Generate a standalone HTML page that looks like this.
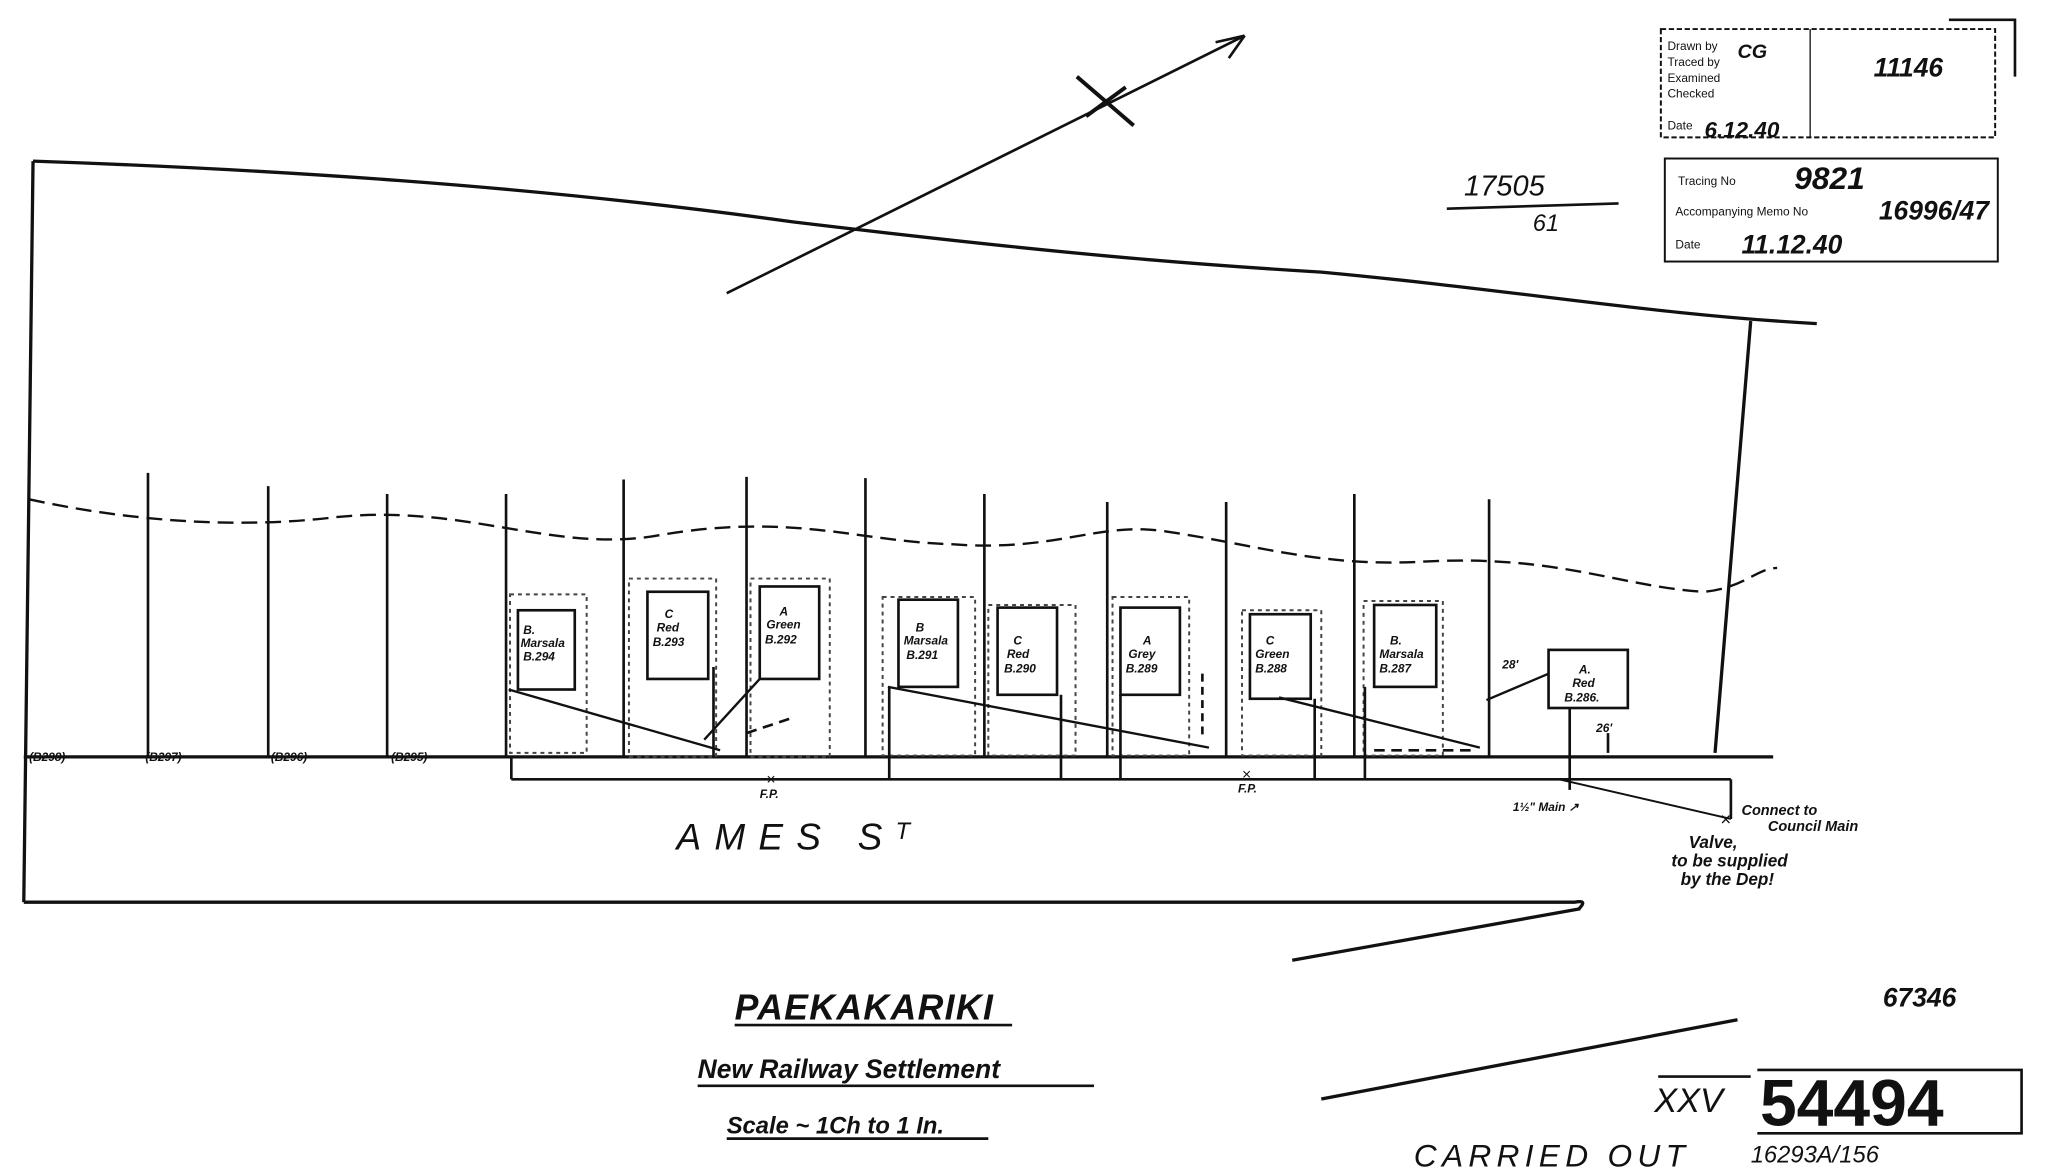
<!DOCTYPE html>
<html><head><meta charset="utf-8"><style>
html,body{margin:0;padding:0;background:#fff;width:2048px;height:1169px;overflow:hidden}
svg{display:block}
text{font-family:"Liberation Sans",sans-serif;fill:#111}
.h{font-style:italic;font-weight:bold}
</style></head><body>
<svg width="2048" height="1169" viewBox="0 0 1550 885" preserveAspectRatio="none" xmlns="http://www.w3.org/2000/svg">
<g fill="none" stroke="#111" stroke-width="2">
<path d="M25,122 C200,128 400,140 600,168 C800,192 900,200 1000,206 C1150,220 1250,238 1375,245" stroke-width="2.5"/>
<line x1="25" y1="122" x2="18" y2="683" stroke-width="2.5"/>
<path d="M18,683 L1192,683 Q1202,681 1195,688" stroke-width="2.5"/>
<line x1="1325" y1="243" x2="1298" y2="570" stroke-width="2.5"/>
<line x1="18" y1="573" x2="1342" y2="573" stroke-width="2.5"/>
<line x1="387" y1="590" x2="1310" y2="590"/>
<line x1="387" y1="573" x2="387" y2="590"/>
<line x1="1310" y1="590" x2="1310" y2="620"/>
<line x1="1180" y1="590" x2="1310" y2="620" stroke-width="1.5"/>
<line x1="112" y1="358" x2="112" y2="573"/>
<line x1="203" y1="368" x2="203" y2="573"/>
<line x1="293" y1="374" x2="293" y2="573"/>
<line x1="383" y1="374" x2="383" y2="573"/>
<line x1="472" y1="363" x2="472" y2="573"/>
<line x1="565" y1="361" x2="565" y2="573"/>
<line x1="655" y1="362" x2="655" y2="573"/>
<line x1="745" y1="374" x2="745" y2="573"/>
<line x1="838" y1="380" x2="838" y2="573"/>
<line x1="928" y1="380" x2="928" y2="573"/>
<line x1="1025" y1="374" x2="1025" y2="573"/>
<line x1="1127" y1="378" x2="1127" y2="573"/>
<path d="M22,378 C100,395 180,400 250,392 C350,380 420,420 500,405 C600,388 650,410 720,412 C800,418 830,395 880,402 C950,412 1000,430 1080,425 C1180,420 1230,445 1290,448 C1320,445 1330,430 1345,430" stroke-dasharray="12,6" stroke-width="1.8"/>
<line x1="550" y1="222" x2="942" y2="27"/>
<path d="M942,27 L920,32 M942,27 L930,44"/>
<line x1="815" y1="58" x2="858" y2="95" stroke-width="3"/>
<line x1="822" y1="88" x2="852" y2="66" stroke-width="3"/>
<rect x="392" y="462" width="43" height="60"/>
<rect x="490" y="448" width="46" height="66"/>
<rect x="575" y="444" width="45" height="70"/>
<rect x="680" y="454" width="45" height="66"/>
<rect x="755" y="460" width="45" height="66"/>
<rect x="848" y="460" width="45" height="66"/>
<rect x="946" y="465" width="46" height="64"/>
<rect x="1040" y="458" width="47" height="62"/>
<rect x="1172" y="492" width="60" height="44"/>
<g stroke-dasharray="3,3" stroke-width="1.5" stroke="#444">
<rect x="386" y="450" width="58" height="120"/>
<rect x="476" y="438" width="66" height="135"/>
<rect x="568" y="438" width="60" height="135"/>
<rect x="668" y="452" width="70" height="120"/>
<rect x="748" y="458" width="66" height="114"/>
<rect x="842" y="452" width="58" height="120"/>
<rect x="940" y="462" width="60" height="110"/>
<rect x="1032" y="455" width="60" height="117"/>
</g>
<line x1="385" y1="522" x2="545" y2="568" stroke-width="1.8"/>
<line x1="575" y1="514" x2="533" y2="560" stroke-width="1.8"/>
<line x1="672" y1="520" x2="915" y2="566" stroke-width="1.8"/>
<line x1="968" y1="528" x2="1120" y2="566" stroke-width="1.8"/>
<line x1="1125" y1="530" x2="1172" y2="510" stroke-width="1.8"/>
<path d="M1040,568 L1115,568" stroke-dasharray="8,5"/>
<path d="M565,555 L598,544" stroke-dasharray="8,5"/>
<line x1="1188" y1="536" x2="1188" y2="598"/>
<line x1="1217" y1="555" x2="1217" y2="570"/>
<line x1="540" y1="505" x2="540" y2="573"/>
<line x1="803" y1="526" x2="803" y2="590"/>
<line x1="848" y1="526" x2="848" y2="590"/>
<line x1="995" y1="529" x2="995" y2="590"/>
<line x1="1033" y1="520" x2="1033" y2="590"/>
<line x1="673" y1="520" x2="673" y2="590"/>
<line x1="910" y1="510" x2="910" y2="560" stroke-dasharray="6,4"/>
<line x1="978" y1="727" x2="1196" y2="688" stroke-width="2.5"/>
<line x1="1000" y1="832" x2="1315" y2="772" stroke-width="2.5"/>
<line x1="556" y1="776" x2="766" y2="776"/>
<line x1="528" y1="822" x2="828" y2="822"/>
<line x1="550" y1="862" x2="748" y2="862"/>
<line x1="1095" y1="158" x2="1225" y2="154"/>
<rect x="1257" y="22" width="253" height="82" stroke-width="1.5" stroke-dasharray="4,2"/>
<line x1="1370" y1="22" x2="1370" y2="104" stroke-width="1"/>
<rect x="1260" y="120" width="252" height="78" stroke-width="1.5"/>
<path d="M1475,15 L1525,15 L1525,58"/>
<line x1="1255" y1="815" x2="1325" y2="815"/>
<path d="M1330,810 L1530,810 L1530,858 L1330,858"/>
</g>
<g font-size="9" class="h">
<text x="22" y="576">(B298)</text><text x="110" y="576">(B297)</text>
<text x="205" y="576">(B296)</text><text x="296" y="576">(B295)</text>
<text x="396" y="480">B.</text><text x="394" y="490">Marsala</text><text x="396" y="500">B.294</text>
<text x="503" y="468">C</text><text x="497" y="478">Red</text><text x="494" y="489">B.293</text>
<text x="590" y="466">A</text><text x="580" y="476">Green</text><text x="579" y="487">B.292</text>
<text x="693" y="478">B</text><text x="684" y="488">Marsala</text><text x="686" y="499">B.291</text>
<text x="767" y="488">C</text><text x="762" y="498">Red</text><text x="760" y="509">B.290</text>
<text x="865" y="488">A</text><text x="854" y="498">Grey</text><text x="852" y="509">B.289</text>
<text x="958" y="488">C</text><text x="950" y="498">Green</text><text x="950" y="509">B.288</text>
<text x="1052" y="488">B.</text><text x="1044" y="498">Marsala</text><text x="1044" y="509">B.287</text>
<text x="1195" y="510">A.</text><text x="1190" y="520">Red</text><text x="1184" y="531">B.286.</text>
<text x="1137" y="506">28'</text><text x="1208" y="554">26'</text>
<text x="575" y="604">F.P.</text><text x="937" y="600">F.P.</text>
<text x="1145" y="614">1½" Main ↗</text>
<text x="1318" y="617" font-size="11">Connect to</text>
<text x="1338" y="629" font-size="11">Council Main</text>
<text x="1278" y="642" font-size="13">Valve,</text>
<text x="1265" y="656" font-size="13">to be supplied</text>
<text x="1272" y="670" font-size="13">by the Dep!</text>
</g>
<text x="1302" y="625" font-size="14">×</text>
<text x="580" y="594" font-size="12">×</text><text x="940" y="590" font-size="12">×</text>
<text x="512" y="643" font-size="28" font-style="italic" letter-spacing="10">AMES  S<tspan font-size="18" dy="-8">T</tspan></text>
<text x="556" y="772" font-size="27" class="h" letter-spacing="1">PAEKAKARIKI</text>
<text x="528" y="816" font-size="20" class="h">New Railway Settlement</text>
<text x="550" y="858" font-size="18" class="h">Scale ~ 1Ch to 1 In.</text>
<text x="1108" y="148" font-size="22" font-style="italic" fill="#333">17505</text>
<text x="1160" y="175" font-size="18" font-style="italic" fill="#333">61</text>
<text x="1425" y="762" font-size="20" class="h">67346</text>
<text x="1252" y="842" font-size="26" font-style="italic" fill="#333">XXV</text>
<text x="1332" y="852" font-size="50" font-weight="bold" font-family="Liberation Serif">54494</text>
<text x="1070" y="883" font-size="24" font-style="italic" letter-spacing="4" fill="#333">CARRIED OUT</text>
<text x="1325" y="880" font-size="18" font-style="italic" fill="#333">16293A/156</text>
<g font-size="9" fill="#555">
<text x="1262" y="38">Drawn by</text><text x="1262" y="50">Traced by</text><text x="1262" y="62">Examined</text><text x="1262" y="74">Checked</text><text x="1262" y="98">Date</text>
<text x="1270" y="140">Tracing No</text><text x="1268" y="163">Accompanying Memo No</text><text x="1268" y="188">Date</text>
</g>
<g class="h" font-size="20">
<text x="1315" y="44" font-size="15">CG</text>
<text x="1418" y="58">11146</text>
<text x="1290" y="104" font-size="17">6.12.40</text>
<text x="1358" y="143" font-size="24">9821</text>
<text x="1422" y="166">16996/47</text>
<text x="1318" y="192">11.12.40</text>
</g>
</svg>
</body></html>
